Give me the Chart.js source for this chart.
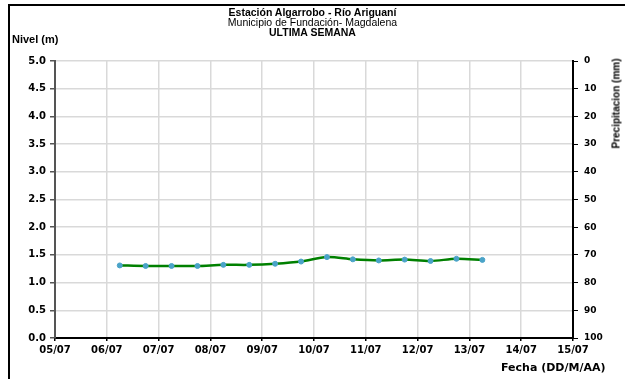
<!DOCTYPE html>
<html>
<head>
<meta charset="utf-8">
<script src="https://cdn.jsdelivr.net/npm/chart.js@4.4.1/dist/chart.umd.min.js"></script>
<style>
  body { margin: 0; background: #fff; }
  #wrap { position: relative; width: 625px; height: 379px; overflow: hidden; }
  #frame { position: absolute; left: 8px; top: 4px; width: 640px; height: 400px; border: 2px solid #000; box-sizing: border-box; }
  canvas { position: absolute; left: 0; top: 0; }
  .txt { position: absolute; font-family: "Liberation Sans", Arial, sans-serif; font-size: 10px; color: #000; white-space: nowrap; }
  .b { font-weight: bold; }
  .head { left: 0; width: 625px; text-align: center; }
</style>
</head>
<body>
<div id="wrap">
  <div id="frame"></div>
  <canvas id="nivelChart" width="625" height="379"></canvas>
  <div class="txt b head" style="top:6px; font-size:10.5px;">Estación Algarrobo - Río Ariguaní</div>
  <div class="txt head" style="top:16px; font-size:10.5px;">Municipio de Fundación- Magdalena</div>
  <div class="txt b head" style="top:26px; font-size:10.5px;">ULTIMA SEMANA</div>
  <div class="txt b" style="left:12px; top:33px; font-size:11px;">Nivel (m)</div>
  <div class="txt b" style="left:501px; top:361px; font-size:11px; font-family:'DejaVu Sans',sans-serif;">Fecha (DD/M/AA)</div>
  <div class="txt b" style="left:566px; top:98px; transform: rotate(-90deg); transform-origin: 50% 50%; width:100px; text-align:center;">Precipitacion (mm)</div>
</div>
<script>
// day of July (fractional), one reading every 12 h
const dayPos = [6.25, 6.75, 7.25, 7.75, 8.25, 8.75, 9.25, 9.75, 10.25, 10.75, 11.25, 11.75, 12.25, 12.75, 13.25];
const nivel = [1.31, 1.30, 1.30, 1.30, 1.32, 1.32, 1.34, 1.38, 1.46, 1.42, 1.40, 1.415, 1.39, 1.43, 1.41];
const dayLabels = ['05/07', '06/07', '07/07', '08/07', '09/07', '10/07', '11/07', '12/07', '13/07', '14/07', '15/07'];
const firstDay = 5;

const ctx = document.getElementById('nivelChart').getContext('2d');
new Chart(ctx, {
    type: 'line',
    data: {
        datasets: [{
            data: dayPos.map((d, i) => ({ x: d, y: nivel[i] })),
            borderColor: '#008000',
            borderWidth: 2.5,
            tension: 0.3,
            pointRadius: 2.5,
            pointBackgroundColor: '#4aa3c8',
            pointBorderColor: '#4aa3c8',
            pointBorderWidth: 1,
            yAxisID: 'y'
        }]
    },
    options: {
        responsive: false,
        animation: false,
        layout: { padding: { left: 0, right: 0, top: 61, bottom: 0 } },
        plugins: { legend: { display: false }, tooltip: { enabled: false } },
        scales: {
            x: {
                type: 'linear',
                min: 5,
                max: 15,
                afterFit: s => { s.height = 41; },
                ticks: {
                    stepSize: 1,
                    color: '#000',
                    font: { family: 'DejaVu Sans', size: 10, weight: 'bold' },
                    padding: 3,
                    maxRotation: 0,
                    callback: v => dayLabels[v - firstDay]
                },
                grid: { color: '#d9d9d9', lineWidth: 1.5, tickLength: 3, tickColor: '#000' },
                border: { color: '#000', width: 2 }
            },
            y: {
                position: 'left',
                min: 0,
                max: 5,
                afterFit: s => { s.width = 55; },
                ticks: {
                    stepSize: 0.5,
                    color: '#000',
                    font: { family: 'DejaVu Sans', size: 10, weight: 'bold' },
                    padding: 4,
                    callback: v => v.toFixed(1)
                },
                grid: { color: '#d9d9d9', lineWidth: 1.5, tickLength: 5, tickColor: '#555' },
                border: { color: '#555', width: 2 }
            },
            y2: {
                position: 'right',
                min: 0,
                max: 100,
                reverse: true,
                afterFit: s => { s.width = 52; },
                ticks: {
                    stepSize: 10,
                    color: '#000',
                    font: { family: 'DejaVu Sans', size: 9, weight: 'bold' },
                    padding: 6
                },
                grid: { drawOnChartArea: false, tickLength: 5, tickColor: '#000', lineWidth: 1 },
                border: { color: '#000', width: 2 }
            }
        }
    }
});
</script>
</body>
</html>
